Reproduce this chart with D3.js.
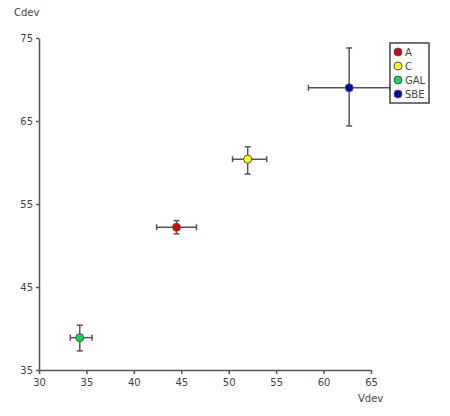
<!DOCTYPE html><html><head><script src="https://d3js.org/d3.v7.min.js"></script>
<style>body{margin:0;background:#fff}text{font-family:"DejaVu Sans",sans-serif;fill:#444}</style></head><body><svg width="450" height="416"></svg>
<script>
const names=["A","C","GAL","SBE"];
const colors=["#e00000","#ffff00","#00e050","#0000c0"];
const vdev=[44.5,52.0,34.3,62.7];
const vLo=[42.4,50.4,33.3,58.4];
const vHi=[46.6,54.0,35.6,67.0];
const cdev=[52.2,60.4,38.9,69.0];
const cLo=[51.4,58.6,37.3,64.4];
const cHi=[53.0,61.9,40.4,73.8];
const xTicks=[30,35,40,45,50,55,60,65];
const yTicks=[35,45,55,65,75];
const svg=d3.select("svg");
const x=d3.scaleLinear().domain([30,65]).range([39,371]);
const y=d3.scaleLinear().domain([35,75]).range([370,38]);
const gx=svg.append("g").attr("transform","translate(0,370)").call(d3.axisBottom(x).tickValues(xTicks).tickSize(4).tickSizeOuter(0));
const gy=svg.append("g").attr("transform","translate(39,0)").call(d3.axisLeft(y).tickValues(yTicks).tickSize(3).tickSizeOuter(0));
[gx,gy].forEach(g=>{g.selectAll("path,line").attr("stroke","#555").attr("stroke-width",1.5);g.selectAll("text").attr("font-size",10).attr("fill","#444");});
gx.selectAll("text").attr("dy","0.9em");
svg.append("text").attr("x",14).attr("y",16).attr("font-size",10).text("Cdev");
svg.append("text").attr("x",358).attr("y",402).attr("font-size",10).text("Vdev");
const d=names.map((n,i)=>({i}));
const g=svg.append("g").attr("stroke","#555").attr("stroke-width",1.5);
d.forEach(({i})=>{
 g.append("line").attr("x1",x(vLo[i])).attr("x2",x(vHi[i])).attr("y1",y(cdev[i])).attr("y2",y(cdev[i]));
 g.append("line").attr("x1",x(vdev[i])).attr("x2",x(vdev[i])).attr("y1",y(cLo[i])).attr("y2",y(cHi[i]));
 [vLo[i],vHi[i]].forEach(v=>g.append("line").attr("x1",x(v)).attr("x2",x(v)).attr("y1",y(cdev[i])-3).attr("y2",y(cdev[i])+3));
 [cLo[i],cHi[i]].forEach(c=>g.append("line").attr("y1",y(c)).attr("y2",y(c)).attr("x1",x(vdev[i])-3).attr("x2",x(vdev[i])+3));
 svg.append("circle").attr("cx",x(vdev[i])).attr("cy",y(cdev[i])).attr("r",4).attr("fill",colors[i]).attr("stroke","#555").attr("stroke-width",1);
});
const lg=svg.append("g");
lg.append("rect").attr("x",390).attr("y",43).attr("width",39).attr("height",60).attr("fill","#fff").attr("stroke","#444").attr("stroke-width",1.5);
names.forEach((n,i)=>{
 lg.append("circle").attr("cx",398).attr("cy",52+i*14).attr("r",4).attr("fill",colors[i]).attr("stroke","#555");
 lg.append("text").attr("x",405).attr("y",56+i*14).attr("font-size",10).text(n);
});
</script></body></html>
